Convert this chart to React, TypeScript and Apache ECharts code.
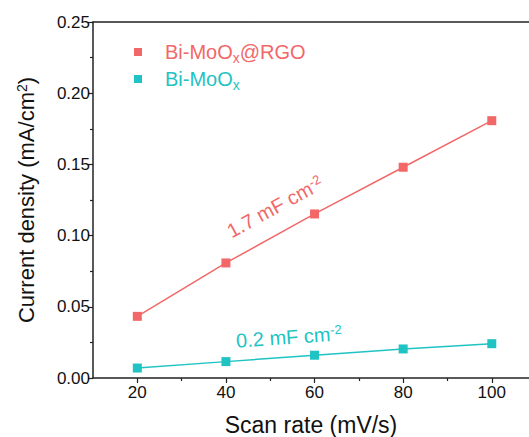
import React, { useEffect, useRef } from "react";
import * as echarts from "echarts";

const scanRates = [20, 40, 60, 80, 100];
const rgoValues = [0.0433, 0.0808, 0.1152, 0.148, 0.1807];
const moValues = [0.007, 0.0115, 0.016, 0.0204, 0.0241];
const xMajorTicks = [20, 40, 60, 80, 100];
const xMinorTicks = [30, 50, 70, 90];
const seriesNames = ["Bi-MoOx@RGO", "Bi-MoOx"];
const RED = "#F26868";
const CYAN = "#1FC3C3";
const FONT = "Liberation Sans, Arial, sans-serif";

export default function App() {
  const ref = useRef<HTMLDivElement>(null);
  useEffect(() => {
    document.body.style.margin = "0";
    const chart = echarts.init(ref.current!, null, { renderer: "svg" });
    const legendRich = (color: string) => ({
      a: { fontSize: 20, color, fontFamily: FONT, padding: [0, 0, 0, 18] },
      b: { fontSize: 20, color, fontFamily: FONT },
      s: { fontSize: 14, color, fontFamily: FONT, verticalAlign: "bottom", padding: [12, 0, 0, 0] },
    });
    chart.setOption({
      animation: false,
      backgroundColor: "#ffffff",
      textStyle: { fontFamily: FONT },
      grid: {
        left: 93,
        top: 22,
        bottom: 59,
        right: 0,
        outerBoundsMode: "none",
        containLabel: false,
      },
      legend: {
        orient: "vertical",
        left: 129,
        top: 37,
        icon: "rect",
        itemWidth: 8,
        itemHeight: 8,
        itemGap: 4,
        formatter: (name: string) =>
          name === seriesNames[0] ? "{a|Bi-MoO}{s|x}{b|@RGO}" : "{a|Bi-MoO}{s|x}",
        data: [
          { name: seriesNames[0], textStyle: { color: RED, rich: legendRich(RED) } },
          { name: seriesNames[1], textStyle: { color: CYAN, rich: legendRich(CYAN) } },
        ],
      },
      xAxis: [
        {
          type: "value",
          min: 10,
          max: 108.4,
          position: "bottom",
          name: "Scan rate (mV/s)",
          nameLocation: "middle",
          nameGap: 35,
          nameTextStyle: { fontSize: 23, color: "#111", fontFamily: FONT },
          axisLine: { show: true, lineStyle: { color: "#222", width: 1.5 } },
          axisTick: { show: true, length: 5, customValues: xMajorTicks, lineStyle: { color: "#222", width: 1.2 } },
          axisLabel: { fontSize: 17, color: "#111", margin: 6, customValues: xMajorTicks, fontFamily: FONT },
          splitLine: { show: false },
        },
        {
          type: "value",
          min: 10,
          max: 108.4,
          position: "bottom",
          axisLine: { show: false },
          axisTick: { show: true, length: 3, customValues: xMinorTicks, lineStyle: { color: "#222", width: 1.2 } },
          axisLabel: { show: false },
          splitLine: { show: false },
        },
        {
          type: "value",
          min: 10,
          max: 108.4,
          position: "top",
          axisLine: { show: true, lineStyle: { color: "#222", width: 1.5 } },
          axisTick: { show: false },
          axisLabel: { show: false },
          splitLine: { show: false },
        },
      ],
      yAxis: {
        type: "value",
        min: 0,
        max: 0.25,
        interval: 0.05,
        name: "{a|Current density (mA/cm}{s|2}{a|)}",
        nameLocation: "middle",
        nameGap: 56,
        nameTextStyle: {
          color: "#111",
          rich: {
            a: { fontSize: 22, color: "#111", fontFamily: FONT },
            s: { fontSize: 14, color: "#111", fontFamily: FONT, verticalAlign: "top", padding: [0, 0, 8, 0] },
          },
        },
        axisLine: { show: true, lineStyle: { color: "#222", width: 1.5 } },
        axisTick: { show: true, length: 5, lineStyle: { color: "#222", width: 1.2 } },
        minorTick: { show: true, splitNumber: 2, length: 3, lineStyle: { color: "#222", width: 1.2 } },
        axisLabel: {
          fontSize: 17,
          color: "#111",
          margin: 3,
          fontFamily: FONT,
          formatter: (v: number) => v.toFixed(2),
        },
        splitLine: { show: false },
      },
      series: [
        {
          name: seriesNames[0],
          type: "line",
          data: scanRates.map((x, i) => [x, rgoValues[i]]),
          symbol: "rect",
          symbolSize: 9,
          itemStyle: { color: RED },
          lineStyle: { color: RED, width: 1.5 },
        },
        {
          name: seriesNames[1],
          type: "line",
          data: scanRates.map((x, i) => [x, moValues[i]]),
          symbol: "rect",
          symbolSize: 9,
          itemStyle: { color: CYAN },
          lineStyle: { color: CYAN, width: 1.5 },
        },
      ],
      graphic: [
        {
          type: "text",
          x: 275,
          y: 207,
          rotation: 0.5,
          style: {
            text: "{a|1.7 mF cm}{s|-2}",
            align: "center",
            verticalAlign: "middle",
            rich: {
              a: { fontSize: 20, fill: RED, fontFamily: FONT },
              s: { fontSize: 13, fill: RED, fontFamily: FONT, verticalAlign: "top", padding: [0, 0, 8, 0] },
            },
          },
        },
        {
          type: "text",
          x: 289,
          y: 337,
          rotation: 0.07,
          style: {
            text: "{a|0.2 mF cm}{s|-2}",
            align: "center",
            verticalAlign: "middle",
            rich: {
              a: { fontSize: 20, fill: CYAN, fontFamily: FONT },
              s: { fontSize: 13, fill: CYAN, fontFamily: FONT, verticalAlign: "top", padding: [0, 0, 8, 0] },
            },
          },
        },
      ],
    });
    return () => chart.dispose();
  }, []);
  return <div ref={ref} style={{ position: "fixed", left: 0, top: 0, width: 529, height: 437 }} />;
}
